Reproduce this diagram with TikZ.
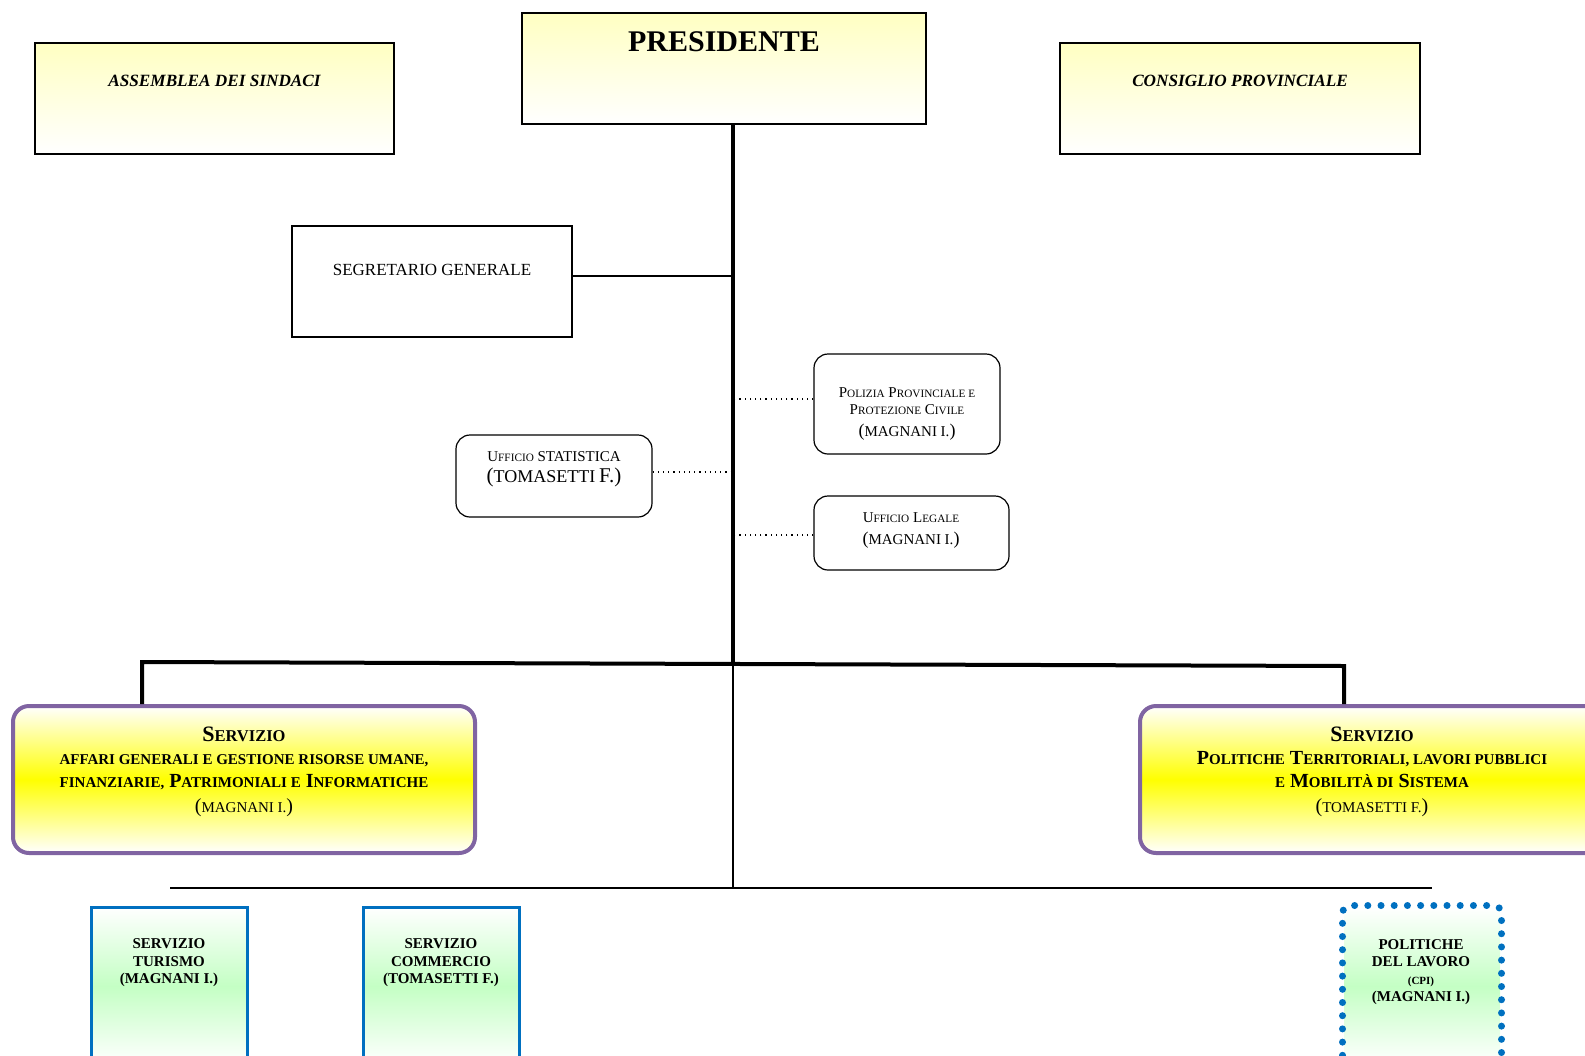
\documentclass[tikz,border=0pt]{standalone}
\usepackage{graphicx}
\usepackage{fontspec}
\setmainfont{Liberation Serif}
\usetikzlibrary{positioning}
\definecolor{viola}{HTML}{8064A2}
\definecolor{azzurro}{HTML}{0070C0}
\definecolor{paglia}{HTML}{FFFFC2}
\definecolor{verdino}{HTML}{C4FFC4}
\newcommand{\kap}[1]{\scalebox{0.75}{#1}}
\newcommand{\fsz}[2]{\fontsize{#1}{#2}\selectfont}

\begin{document}
\begin{tikzpicture}[x=0.5pt,y=-0.5pt,
    organo/.style={draw,line width=1pt,top color=paglia,bottom color=white,minimum height=55.5pt},
    staff/.style={draw,line width=0.6pt,rounded corners=7pt,fill=white},
    servizio/.style={draw=viola,line width=2pt,rounded corners=8pt,top color=white,bottom color=white,middle color=yellow,
      minimum width=231pt,minimum height=73.5pt},
    unita/.style={draw=azzurro,line width=1.5pt,top color=white,bottom color=white,middle color=verdino,
      minimum width=78pt,minimum height=79pt},
    testo/.style={inner sep=0pt,align=center},
    tronco/.style={line width=2pt},
    filo/.style={line width=0.6pt},
    punti/.style={line width=0.6pt,dotted}]
  \useasboundingbox[fill=white] (0,0) rectangle (1585,1055);
  \clip (0,0) rectangle (1585,1055);

  % organi
  \node[organo,minimum width=179.5pt] (assemblea) at (214.5,98.5) {};
  \node[organo,minimum width=202pt] (pres) at (724,68.5) {};
  \node[organo,minimum width=180pt] (consiglio) at (1240,98.5) {};
  \node[testo,font=\fsz{8.6}{10}\bfseries\itshape] (assemblea-t) at (214.5,81) {ASSEMBLEA DEI SINDACI};
  \node[testo,font=\fsz{15}{17}\bfseries] (pres-t) at (724,42) {PRESIDENTE};
  \node[testo,font=\fsz{8.6}{10}\bfseries\itshape] (consiglio-t) at (1240,81) {CONSIGLIO PROVINCIALE};

  % staff
  \node[draw,line width=1pt,fill=white,minimum width=140pt,minimum height=55.5pt] (segr) at (432,281.5) {};
  \node[testo,font=\fsz{8.5}{10}] (segr-t) at (432,270) {SEGRETARIO GENERALE};
  \node[staff,minimum width=93pt,minimum height=50pt] (poliz) at (907,404) {};
  \node[staff,minimum width=98pt,minimum height=41pt] (stat) at (554,476) {};
  \node[staff,minimum width=97.5pt,minimum height=37pt] (legale) at (911.5,533) {};
  \node[testo,font=\fsz{7.5}{8.6}] (poliz-t) at (907,414)
    {P\kap{OLIZIA} P\kap{ROVINCIALE E}\\P\kap{ROTEZIONE} C\kap{IVILE}\\[2.5pt]{\fsz{9}{10}(}MAGNANI I.{\fsz{9}{10})}};
  \node[testo,font=\fsz{7.5}{10.5}] (stat-t) at (554,469)
    {U\kap{FFICIO} STATISTICA\\{\fsz{10.5}{11}(}{\fsz{9}{10}TOMASETTI} {\fsz{10.5}{11}F.)}};
  \node[testo,font=\fsz{7.5}{11}] (legale-t) at (911,530)
    {U\kap{FFICIO} L\kap{EGALE}\\{\fsz{9}{10}(}MAGNANI I.{\fsz{9}{10})}};

  % servizi
  \node[servizio] (servl) at (244,779.5) {};
  \node[servizio] (servr) at (1371,779.5) {};
  \node[testo,font=\fsz{10}{11.5}\bfseries] (servl-t) at (244,772)
    {{\fsz{11}{12}S\kap{ERVIZIO}}\\\kap{AFFARI GENERALI E GESTIONE RISORSE UMANE,}\\\kap{FINANZIARIE,} P\kap{ATRIMONIALI E} I\kap{NFORMATICHE}\\[1pt]{\mdseries (\kap{MAGNANI I.})}};
  \node[testo,font=\fsz{10}{11.5}\bfseries] (servr-t) at (1372,772)
    {{\fsz{11}{12}S\kap{ERVIZIO}}\\P\kap{OLITICHE} T\kap{ERRITORIALI, LAVORI PUBBLICI}\\\kap{E} M\kap{OBILITÀ DI} S\kap{ISTEMA}\\[1pt]{\mdseries (\kap{TOMASETTI F.})}};

  % unita
  \node[unita] (turismo) at (169,986) {};
  \node[unita] (commercio) at (441,986) {};
  \node[unita,draw=none] (lavoro) at (1422,986) {};
  \draw[azzurro,line width=3.5pt,line cap=round,dash pattern=on 0pt off 6.6pt,rounded corners=4pt]
    ([yshift=-1pt]lavoro.south west) -- (lavoro.north west) -- (lavoro.north east) -- ([yshift=-1pt]lavoro.south east);
  \node[testo,font=\fsz{7.5}{8.7}\bfseries] (turismo-t) at (169,963) {SERVIZIO\\TURISMO\\(MAGNANI I.)};
  \node[testo,font=\fsz{7.5}{8.7}\bfseries] (commercio-t) at (441,963) {SERVIZIO\\COMMERCIO\\(TOMASETTI F.)};
  \node[testo,font=\fsz{7.5}{8.7}\bfseries] (lavoro-t) at (1421,972) {POLITICHE\\DEL LAVORO\\{\fsz{5.5}{8.7}(CPI)}\\(MAGNANI I.)};

  % collegamenti
  \coordinate (hub) at (733,664);
  \coordinate (lcorner) at (142,662);
  \coordinate (rcorner) at (1344,666);
  \coordinate (lowhub) at (733,888);
  \coordinate (lowl) at (170,888);
  \coordinate (lowr) at (1432,888);
  \draw[tronco] (pres.south -| hub) -- (hub);
  \draw[tronco,line join=miter] (servl.north -| lcorner) -- (lcorner) -- (rcorner) -- (servr.north -| rcorner);
  \draw[filo] ([yshift=2.75pt]segr.east) -- ([yshift=2.75pt]segr.east -| hub);
  \draw[punti] ([yshift=2.5pt]poliz.west) -- ([yshift=2.5pt]poliz.west -| hub);
  \draw[punti] ([yshift=2pt]stat.east) -- ([yshift=2pt]stat.east -| hub);
  \draw[punti] ([yshift=-1pt]legale.west) -- ([yshift=-1pt]legale.west -| hub);
  \draw[filo] (hub) -- (lowhub);
  \draw[filo] (lowl) -- (lowr);
\end{tikzpicture}
\end{document}
